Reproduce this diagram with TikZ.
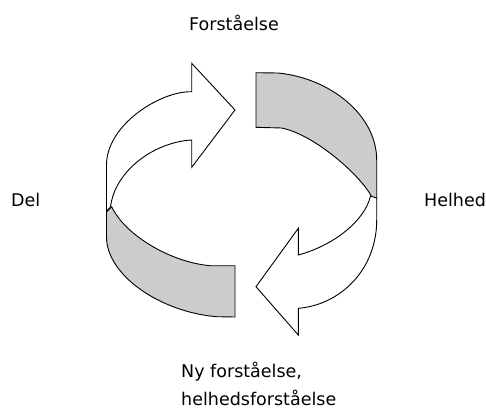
\documentclass[tikz,border=0pt]{standalone}
\usepackage{fontspec}
\setmainfont{DejaVu Sans}
\definecolor{bandgrey}{RGB}{204,204,204}
\begin{document}
\begin{tikzpicture}[x=1pt,y=-1pt,
  band/.style={draw=black,fill=bandgrey,line width=0.9pt,line join=miter},
  arrowshape/.style={draw=black,fill=white,line width=0.9pt,line join=miter},
  lbl/.style={inner sep=0pt,anchor=base west,font=\fontsize{17.5}{21}\selectfont}]
\useasboundingbox (0,0) rectangle (486,408);
% lower-left grey band
\draw[band] (106.5,212) -- (106.5,237)
  .. controls (106.5,275) and (160,312) .. (216.7,316.7)
  -- (235,317) -- (235,265.7) -- (210,265.7)
  .. controls (170,262) and (125,235) .. (111.7,206.7) -- cycle;
% upper-right grey band
\draw[band] (256,72.7) -- (278,73)
  .. controls (330,78) and (376.7,115) .. (376.7,160)
  -- (376.7,199) -- (371.7,196.7)
  .. controls (360,175) and (315,135) .. (281.7,128)
  -- (256,127.3) -- cycle;
% upper-left white arrow
\draw[arrowshape] (106.5,211) -- (106.5,165)
  .. controls (106.5,125) and (160,91) .. (191.7,91.7)
  -- (191.7,63.3) -- (235,110) -- (191.7,167.3) -- (191.7,140)
  .. controls (155,142) and (115,170) .. (110.5,207) -- cycle;
% lower-right white arrow
\draw[arrowshape] (376.7,198) -- (376.7,220)
  .. controls (376.7,270) and (340,305) .. (298.3,308.3)
  -- (298.3,335) -- (256,286.7) -- (298.3,228.3) -- (298.3,255)
  .. controls (335,245) and (365,220) .. (370.5,196) -- cycle;
% labels
\node[lbl] (forst) at (189,30) {Forståelse};
\node[lbl] (del) at (11,206.7) {Del};
\node[lbl] (helhed) at (424,206.7) {Helhed};
\node[lbl] (ny1) at (181,377) {Ny forståelse,};
\node[lbl] (ny2) at (181,405) {helhedsforståelse};
\end{tikzpicture}
\end{document}
